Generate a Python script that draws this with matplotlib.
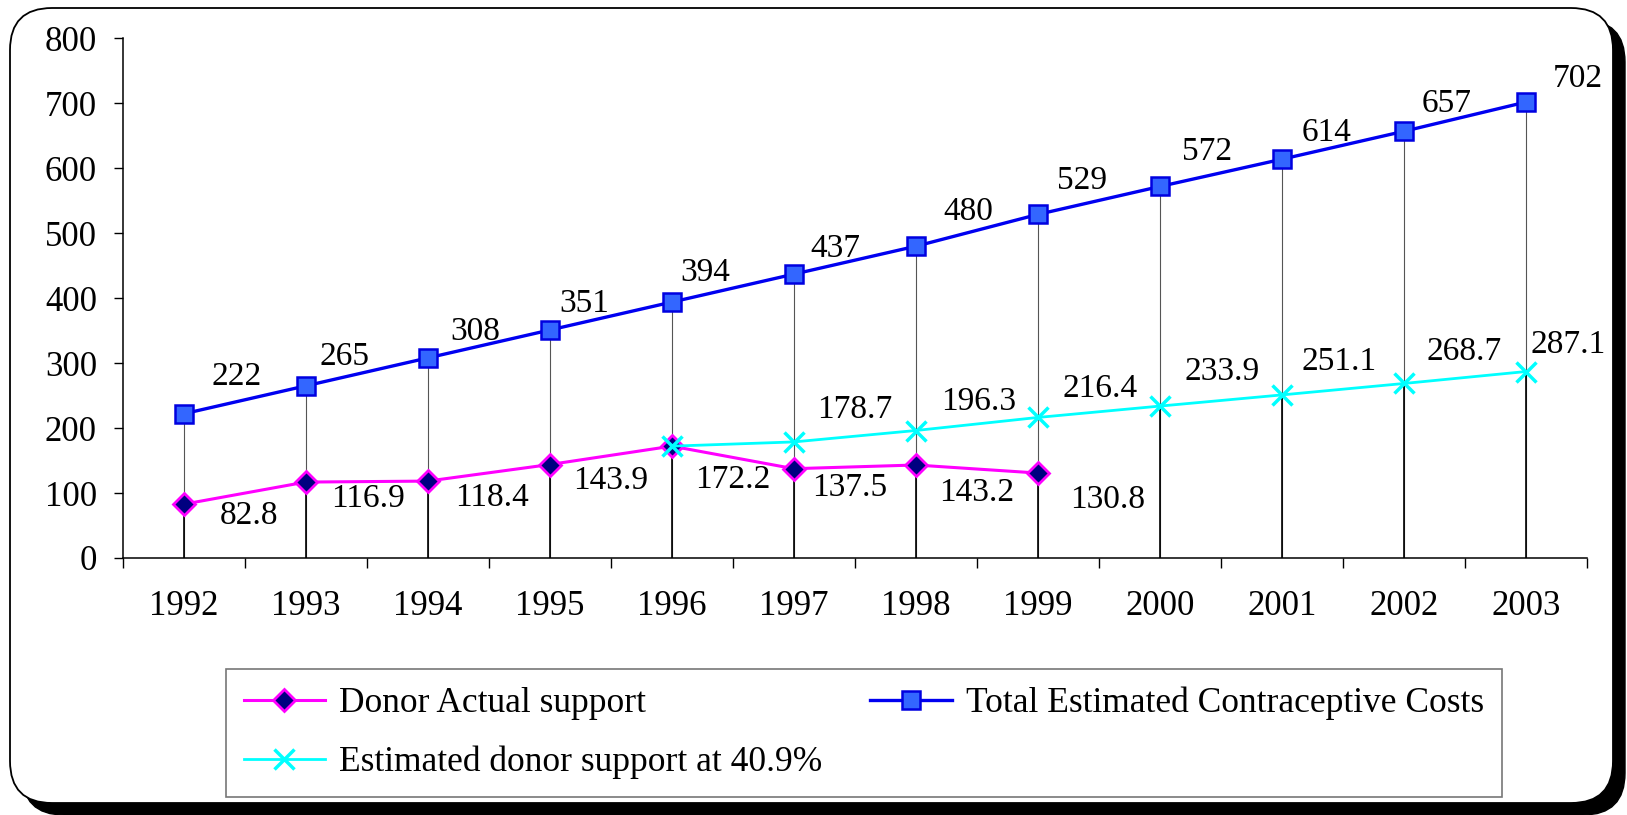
import matplotlib.pyplot as plt
from matplotlib.patches import FancyBboxPatch
from matplotlib.transforms import IdentityTransform

years = ['1992', '1993', '1994', '1995', '1996', '1997', '1998', '1999',
         '2000', '2001', '2002', '2003']
total_costs = [222, 265, 308, 351, 394, 437, 480, 529, 572, 614, 657, 702]
donor_actual = [82.8, 116.9, 118.4, 143.9, 172.2, 137.5, 143.2, 130.8]
est_years = ['1996', '1997', '1998', '1999', '2000', '2001', '2002', '2003']
est_donor = [172.2, 178.7, 196.3, 216.4, 233.9, 251.1, 268.7, 287.1]

# label offsets in points (moved by hand in the original)
off_total = [(38, 27), (28, 21), (34, 19), (25, 19), (24, 21), (30, 18),
             (38, 25), (32, 24), (34, 25), (32, 19), (31, 20), (37, 17)]
off_donor = [(47, -8), (45, -12), (46, -12), (44, -12), (44, -24),
             (40, -14), (44, -20), (50, -19)]
off_est = [None, (44, 23), (45, 21), (45, 21), (45, 25), (41, 24),
           (43, 23), (30, 19)]

plt.rcParams['font.family'] = ['Liberation Serif', 'DejaVu Serif']

W, H = 1627, 815
fig = plt.figure(figsize=(W / 100, H / 100), dpi=100)

# rounded frame with shadow (pixel coords)
shadow = FancyBboxPatch((22, 0), 1603, 795,
                        boxstyle='round,pad=0,rounding_size=42',
                        transform=IdentityTransform(), facecolor='black',
                        edgecolor='black', lw=1, zorder=-2)
frame = FancyBboxPatch((10, 12), 1603, 795,
                       boxstyle='round,pad=0,rounding_size=42',
                       transform=IdentityTransform(), facecolor='white',
                       edgecolor='black', lw=1.3, zorder=-1)
fig.patches.extend([shadow, frame])

ax = fig.add_axes([122.6 / W, 1 - 558 / H, 1464.4 / W, 519.6 / H])
ax.patch.set_visible(False)

x_all = list(range(len(years)))
x_est = [years.index(y) for y in est_years]
x_don = x_all[:len(donor_actual)]

# drop lines
for i, v in enumerate(total_costs):
    ax.plot([i, i], [0, v], color='#555555', lw=0.8, zorder=1)
for i in x_all:
    lows = []
    if i < len(donor_actual):
        lows.append(donor_actual[i])
    if i in x_est:
        lows.append(est_donor[x_est.index(i)])
    if lows:
        ax.plot([i, i], [0, min(lows)], color='black', lw=1.2, zorder=1)

ln_don, = ax.plot(x_don, donor_actual, color='#FF00FF', lw=2.2, marker='D',
                  ms=11, mfc='#000080', mec='#FF00FF', mew=2, zorder=3)
ln_tot, = ax.plot(x_all, total_costs, color='#0000F0', lw=2.4, marker='s',
                  ms=13, mfc='#3366FF', mec='#0000E0', mew=1.8, zorder=3)
ln_est, = ax.plot(x_est, est_donor, color='#00FFFF', lw=2.0, marker='x',
                  ms=15, mew=2.5, zorder=4)

fs = 24
for i, v, o in zip(x_all, total_costs, off_total):
    ax.annotate(f'{v}', (i, v), xytext=o, textcoords='offset points',
                ha='center', va='center', fontsize=fs)
for i, v, o in zip(x_don, donor_actual, off_donor):
    ax.annotate(f'{v}', (i, v), xytext=o, textcoords='offset points',
                ha='center', va='center', fontsize=fs)
for i, v, o in zip(x_est, est_donor, off_est):
    if o is None:
        continue
    ax.annotate(f'{v}', (i, v), xytext=o, textcoords='offset points',
                ha='center', va='center', fontsize=fs)

ax.set_xlim(-0.5, len(years) - 0.5)
ax.set_ylim(0, 800)
ax.set_yticks(range(0, 801, 100))
ax.set_xticks(x_all)
ax.set_xticklabels(years)
ax.set_xticks([i - 0.5 for i in range(len(years) + 1)], minor=True)
ax.tick_params(axis='x', which='major', length=0, pad=23, labelsize=25)
ax.tick_params(axis='x', which='minor', length=7, width=1, direction='out')
ax.tick_params(axis='y', length=6.5, width=1, pad=12, labelsize=25)
for s in ['top', 'right']:
    ax.spines[s].set_visible(False)
for s in ['left', 'bottom']:
    ax.spines[s].set_linewidth(1.1)

leg = fig.legend([ln_don, ln_est, ln_tot],
                 ['Donor Actual support', 'Estimated donor support at 40.9%',
                  'Total Estimated Contraceptive Costs'],
                 ncol=2, loc='upper left', bbox_to_anchor=(226 / W, 1 - 669 / H),
                 fontsize=25.5, frameon=True, fancybox=False,
                 edgecolor='#555555', handlelength=2.3, handletextpad=0.4,
                 columnspacing=1.35, borderaxespad=0, labelspacing=0.72,
                 borderpad=0.5)
leg.get_frame().set_linewidth(1.2)

fig.savefig('out.png', dpi=100)
